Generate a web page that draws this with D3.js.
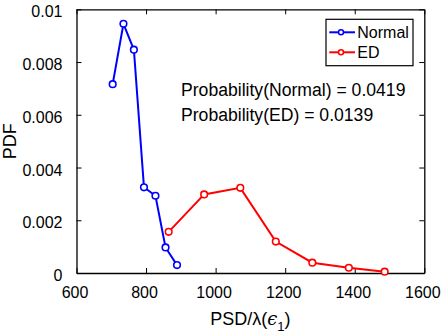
<!DOCTYPE html>
<html>
<head>
<meta charset="utf-8">
<script src="https://cdn.jsdelivr.net/npm/d3@7"></script>
<style>
  body { margin: 0; background: #fff; }
  text { font-family: "Liberation Sans", Arial, sans-serif; fill: #000; }
</style>
</head>
<body>
<svg id="chart"></svg>
<script>
// data
const normalX = [704, 735, 765, 794, 827, 856, 889];
const normalY = [0.00716, 0.00945, 0.00847, 0.00325, 0.00293, 0.00097, 0.00030];
const edX = [865, 967, 1071, 1173, 1278, 1383, 1486];
const edY = [0.00156, 0.00298, 0.00323, 0.00119, 0.00039, 0.00020, 0.00005];
const xTicks = [600, 800, 1000, 1200, 1400, 1600];
const yTicks = [0, 0.002, 0.004, 0.006, 0.008, 0.01];
const notes = ['Probability(Normal) = 0.0419', 'Probability(ED) = 0.0139'];

const width = 446, height = 336;
const margin = {left: 76.5, right: 21.7, top: 9.3, bottom: 63};

const svg = d3.select('#chart')
  .attr('width', width)
  .attr('height', height);

const x = d3.scaleLinear().domain([600, 1600]).range([margin.left, width - margin.right]);
const y = d3.scaleLinear().domain([0, 0.01]).range([height - margin.bottom, margin.top]);

const fmtY = d => d === 0 ? '0' : String(+d.toFixed(3));

// axes, ticks pointing inward like matlab
function styleAxis(g) {
  g.select('.domain').attr('stroke', '#000').attr('stroke-width', 1.3);
  g.selectAll('.tick line').attr('stroke', '#000').attr('stroke-width', 1);
  g.selectAll('.tick text').style('font-size', '16px');
}

svg.append('g')
  .attr('transform', `translate(0,${y(0)})`)
  .call(d3.axisBottom(x).tickValues(xTicks).tickFormat(d3.format('d')).tickSize(-5).tickPadding(14).tickSizeOuter(0))
  .call(styleAxis)
  .selectAll('.tick text').attr('dx', -2);

svg.append('g')
  .attr('transform', `translate(${x(600)},0)`)
  .call(d3.axisLeft(y).tickValues(yTicks).tickFormat(fmtY).tickSize(-5).tickPadding(14).tickSizeOuter(0))
  .call(styleAxis)
  .selectAll('.tick text').attr('dy', '0.48em');

svg.append('g')
  .attr('transform', `translate(0,${y(0.01)})`)
  .call(d3.axisTop(x).tickValues(xTicks).tickSize(-5).tickFormat('').tickSizeOuter(0))
  .call(styleAxis);

svg.append('g')
  .attr('transform', `translate(${x(1600)},0)`)
  .call(d3.axisRight(y).tickValues(yTicks).tickSize(-5).tickFormat('').tickSizeOuter(0))
  .call(styleAxis);

// labels
svg.append('text')
  .attr('transform', `translate(15.5,${(y(0) + y(0.01)) / 2}) rotate(-90)`)
  .attr('text-anchor', 'middle')
  .style('font-size', '18px')
  .text('PDF');

const xl = svg.append('text')
  .attr('x', (x(600) + x(1600)) / 2)
  .attr('y', 325)
  .attr('text-anchor', 'middle')
  .style('font-size', '18px');
xl.append('tspan').text('PSD/λ(');
xl.append('tspan').style('font-family', '"DejaVu Serif", serif').style('font-style', 'italic').text('ϵ');
xl.append('tspan').attr('dy', 6).style('font-size', '13px').text('1');
xl.append('tspan').attr('dy', -6).text(')');

// series
const series = [
  {name: 'Normal', color: '#0000ff', pts: normalX.map((v, i) => [v, normalY[i]])},
  {name: 'ED', color: '#ff0000', pts: edX.map((v, i) => [v, edY[i]])}
];

const line = d3.line().x(d => x(d[0])).y(d => y(d[1]));

series.forEach(s => {
  svg.append('path')
    .datum(s.pts)
    .attr('d', line)
    .attr('fill', 'none')
    .attr('stroke', s.color)
    .attr('stroke-width', 2);
  svg.selectAll(null)
    .data(s.pts)
    .enter()
    .append('circle')
    .attr('cx', d => x(d[0]))
    .attr('cy', d => y(d[1]))
    .attr('r', 3.3)
    .attr('fill', '#fff')
    .attr('stroke', s.color)
    .attr('stroke-width', 1.6);
});

// annotation
notes.forEach((t, i) => {
  svg.append('text')
    .attr('x', 181)
    .attr('y', 96 + i * 25)
    .style('font-size', '17.6px')
    .text(t);
});

// legend
const lg = svg.append('g').attr('transform', 'translate(326,19.3)');
lg.append('rect')
  .attr('width', 87).attr('height', 46.4)
  .attr('fill', '#fff').attr('stroke', '#000').attr('stroke-width', 1.2);
series.forEach((s, i) => {
  const yy = 13 + i * 20;
  lg.append('line')
    .attr('x1', 3.3).attr('x2', 29).attr('y1', yy).attr('y2', yy)
    .attr('stroke', s.color).attr('stroke-width', 2);
  lg.append('circle')
    .attr('cx', 15).attr('cy', yy).attr('r', 2.5)
    .attr('fill', '#fff').attr('stroke', s.color).attr('stroke-width', 1.5);
  lg.append('text')
    .attr('x', 31.3).attr('y', yy + 6)
    .style('font-size', '16px')
    .text(s.name);
});
</script>
</body>
</html>
